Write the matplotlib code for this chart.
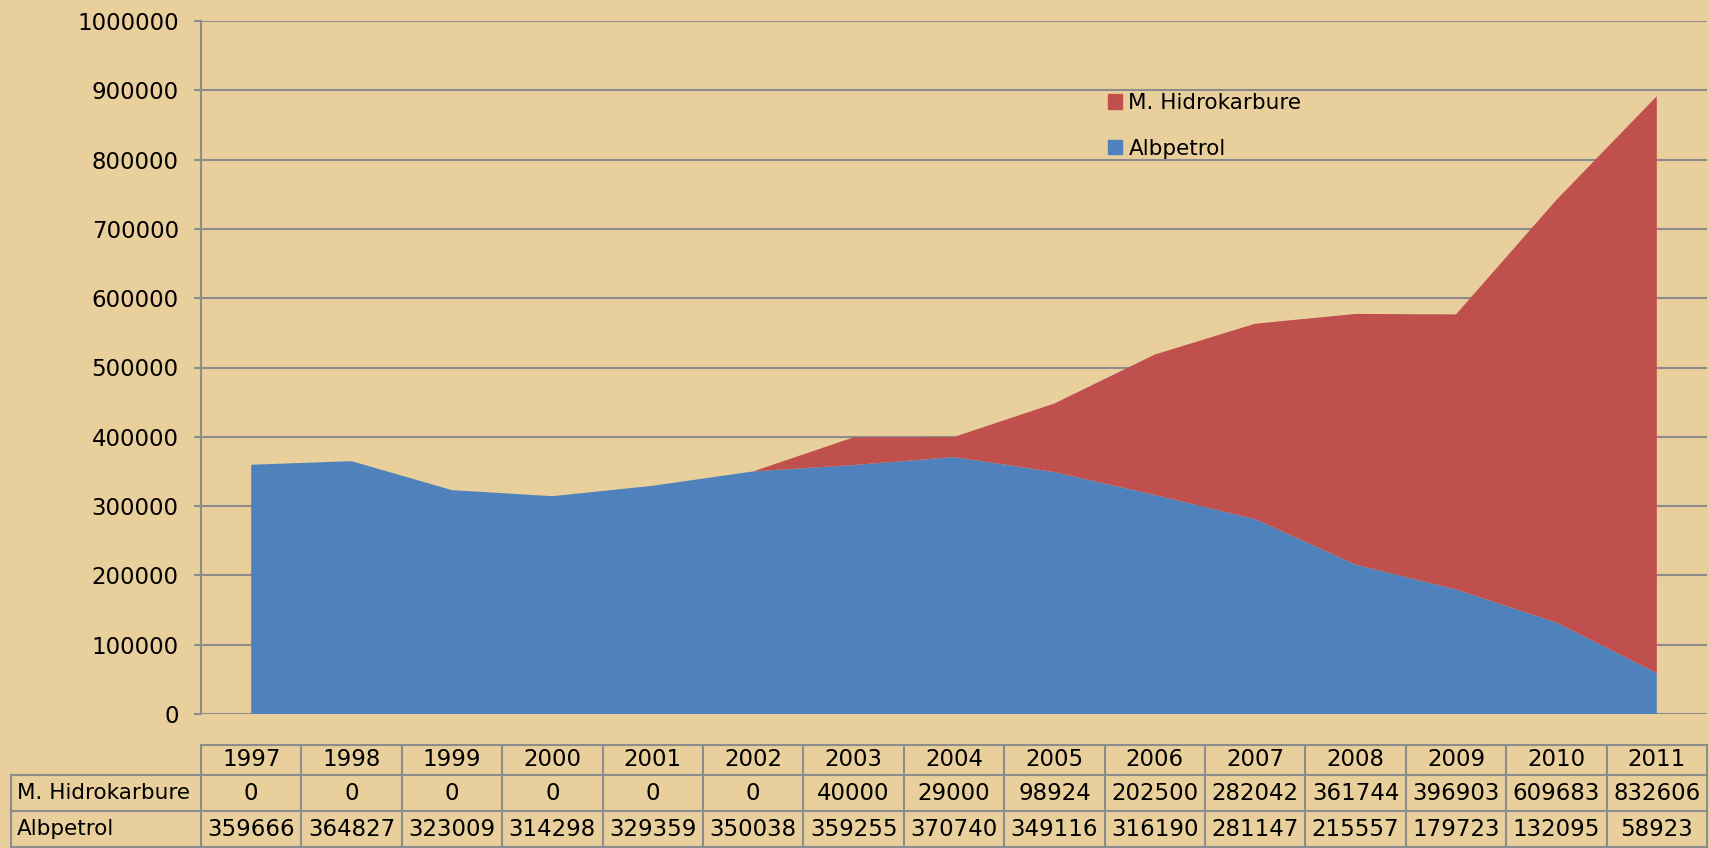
import matplotlib.pyplot as plt
from matplotlib.patches import Patch

# Data
years = ['1997', '1998', '1999', '2000', '2001', '2002', '2003', '2004',
         '2005', '2006', '2007', '2008', '2009', '2010', '2011']
hidrokarbure = [0, 0, 0, 0, 0, 0, 40000, 29000, 98924, 202500,
                282042, 361744, 396903, 609683, 832606]
albpetrol = [359666, 364827, 323009, 314298, 329359, 350038, 359255, 370740,
             349116, 316190, 281147, 215557, 179723, 132095, 58923]

bg = '#E8CF9B'
grid_col = '#8C8C8C'
blue = '#4F81BD'
red = '#C0504D'
fs = 15.5      # words
fs_num = 16.5  # numbers

W, H = 1709, 848
fig = plt.figure(figsize=(W / 100, H / 100), dpi=100, facecolor=bg)

# Plot area (pixel layout of the reference)
left, right, top, bottom = 201, 1707, 21, 714
ax = fig.add_axes([left / W, 1 - bottom / H, (right - left) / W, (bottom - top) / H])
ax.set_facecolor('none')

x = list(range(len(years)))
ax.stackplot(x, albpetrol, hidrokarbure, colors=[blue, red], linewidth=0)

ax.set_xlim(-0.5, len(years) - 0.5)
ax.set_ylim(0, 1000000)
ax.set_yticks(range(0, 1000001, 100000))
ax.set_yticklabels([str(v) for v in range(0, 1000001, 100000)], fontsize=fs_num)
ax.set_xticks([])
ax.yaxis.grid(True, color=grid_col, linewidth=1.5)
ax.set_axisbelow(True)
for s in ['top', 'right', 'bottom']:
    ax.spines[s].set_visible(False)
ax.spines['left'].set_color(grid_col)
ax.spines['left'].set_linewidth(1.5)
ax.tick_params(axis='y', length=5, width=1.5, color=grid_col, pad=11)

# Legend
handles = [Patch(color=red, label='M. Hidrokarbure'),
           Patch(color=blue, label='Albpetrol')]
fig.legend(handles=handles, loc='upper left', bbox_to_anchor=(1108 / W, 1 - 93 / H),
           frameon=False, fontsize=fs, handlelength=0.65, handleheight=0.65,
           handletextpad=0.3, labelspacing=1.2, borderpad=0, borderaxespad=0)

# Data table below the chart
tab = fig.add_axes([0, 0, 1, 1])
tab.set_xlim(0, W)
tab.set_ylim(H, 0)
tab.axis('off')
tab.patch.set_alpha(0)

col_w = (right - left) / len(years)
row_y = [745, 775, 811, 847]
lkw = dict(color=grid_col, linewidth=1.5)
tab.plot([left, right], [row_y[0], row_y[0]], **lkw)
for yy in row_y[1:]:
    tab.plot([11, right], [yy, yy], **lkw)
tab.plot([11, 11], [row_y[1], row_y[3]], **lkw)
for i in range(len(years) + 1):
    xx = left + i * col_w
    tab.plot([xx, xx], [row_y[0], row_y[3]], **lkw)

for i, yr in enumerate(years):
    cx = left + (i + 0.5) * col_w
    tab.text(cx, (row_y[0] + row_y[1]) / 2, yr, ha='center', va='center', fontsize=fs_num)
    tab.text(cx, (row_y[1] + row_y[2]) / 2, str(hidrokarbure[i]), ha='center', va='center', fontsize=fs_num)
    tab.text(cx, (row_y[2] + row_y[3]) / 2, str(albpetrol[i]), ha='center', va='center', fontsize=fs_num)
tab.text(17, (row_y[1] + row_y[2]) / 2, 'M. Hidrokarbure', ha='left', va='center', fontsize=fs)
tab.text(17, (row_y[2] + row_y[3]) / 2, 'Albpetrol', ha='left', va='center', fontsize=fs)

fig.savefig('out.png', dpi=100, facecolor=bg)
